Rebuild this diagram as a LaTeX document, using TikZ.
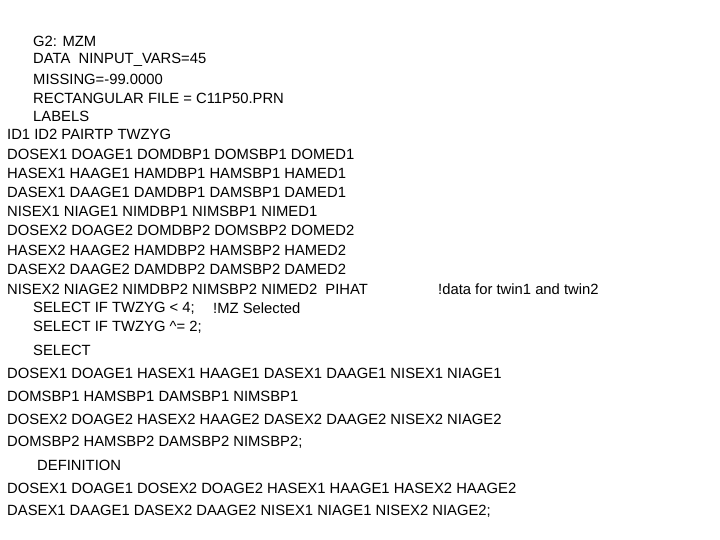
\documentclass[tikz,border=0pt]{standalone}
\usepackage{fontspec}
\setmainfont{Liberation Sans}
\begin{document}
\begin{tikzpicture}[x=1pt,y=-1pt,txt/.style={anchor=west,inner sep=0pt,font=\fontsize{14.8}{15}\selectfont}]
\useasboundingbox (0,0) rectangle (720,540);
\node[txt] (t1) at (33,41) {G2: MZM};
\node[txt] (t2) at (33,60) {DATA\ \ NINPUT\_VARS=45};
\node[txt] (t3) at (33,79) {MISSING=-99.0000};
\node[txt] (t4) at (33,98) {RECTANGULAR FILE = C11P50.PRN};
\node[txt] (t5) at (33,116) {LABELS};
\node[txt] (t6) at (7,134) {ID1 ID2 PAIRTP TWZYG};
\node[txt] (t7) at (7,154) {DOSEX1 DOAGE1 DOMDBP1 DOMSBP1 DOMED1};
\node[txt] (t8) at (7,173) {HASEX1 HAAGE1 HAMDBP1 HAMSBP1 HAMED1};
\node[txt] (t9) at (7,192) {DASEX1 DAAGE1 DAMDBP1 DAMSBP1 DAMED1};
\node[txt] (t10) at (7,211) {NISEX1 NIAGE1 NIMDBP1 NIMSBP1 NIMED1};
\node[txt] (t11) at (7,230) {DOSEX2 DOAGE2 DOMDBP2 DOMSBP2 DOMED2};
\node[txt] (t12) at (7,250) {HASEX2 HAAGE2 HAMDBP2 HAMSBP2 HAMED2};
\node[txt] (t13) at (7,269) {DASEX2 DAAGE2 DAMDBP2 DAMSBP2 DAMED2};
\node[txt] (t14) at (7,289) {NISEX2 NIAGE2 NIMDBP2 NIMSBP2 NIMED2\ \ PIHAT};
\node[txt] (t15) at (438,289) {!data for twin1 and twin2};
\node[txt] (t16) at (33,308) {SELECT IF TWZYG < 4;};
\node[txt] (t17) at (213,308) {!MZ Selected};
\node[txt] (t18) at (33,327) {SELECT IF TWZYG \^{}= 2;};
\node[txt] (t19) at (33,350) {SELECT};
\node[txt] (t20) at (7,373) {DOSEX1 DOAGE1 HASEX1 HAAGE1 DASEX1 DAAGE1 NISEX1 NIAGE1};
\node[txt] (t21) at (7,396) {DOMSBP1 HAMSBP1 DAMSBP1 NIMSBP1};
\node[txt] (t22) at (7,419) {DOSEX2 DOAGE2 HASEX2 HAAGE2 DASEX2 DAAGE2 NISEX2 NIAGE2};
\node[txt] (t23) at (7,442) {DOMSBP2 HAMSBP2 DAMSBP2 NIMSBP2;};
\node[txt] (t24) at (37,465) {DEFINITION};
\node[txt] (t25) at (7,488) {DOSEX1 DOAGE1 DOSEX2 DOAGE2 HASEX1 HAAGE1 HASEX2 HAAGE2};
\node[txt] (t26) at (7,511) {DASEX1 DAAGE1 DASEX2 DAAGE2 NISEX1 NIAGE1 NISEX2 NIAGE2;};
\end{tikzpicture}
\end{document}
